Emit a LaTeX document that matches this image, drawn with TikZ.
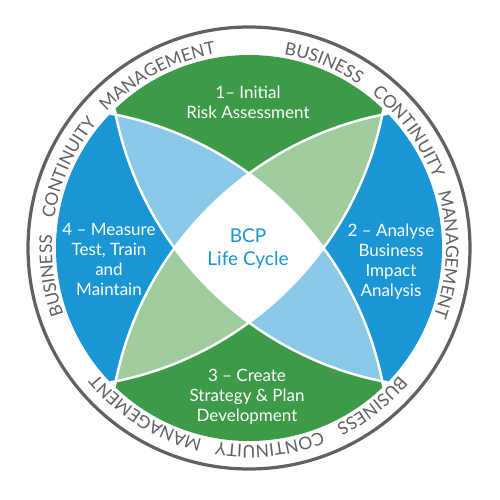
\documentclass[tikz,border=0pt]{standalone}
\usepackage{fontspec}
\setmainfont{Lato}
\usetikzlibrary{decorations.text}
\definecolor{bcpgreen}{RGB}{60,154,72}
\definecolor{bcpblue}{RGB}{26,150,212}
\definecolor{bcplightblue}{RGB}{138,200,232}
\definecolor{bcplightgreen}{RGB}{158,204,158}
\definecolor{ringgray}{RGB}{96,96,102}

\begin{document}
\begin{tikzpicture}[x=1pt,y=1pt,every node/.style={font=\fontsize{17}{20}\selectfont,text=white,align=center},
  ringword/.style={decorate,decoration={text along path,text align=center,text={|\color{ringgray}\fontsize{17.5}{17.5}\selectfont|#1}}}]
\useasboundingbox[fill=white] (-249,-252) rectangle (251,248);
\coordinate (c) at (0,0);
\coordinate (nw) at (-201,201);
\coordinate (ne) at (201,201);
\coordinate (sw) at (-201,-201);
\coordinate (se) at (201,-201);
\draw[ringgray,line width=3.2pt] (c) circle (221);
\foreach \r in {0,120,240}{
  \path[ringword=BUSINESS] (98-\r:197) arc[start angle=98-\r,end angle=38-\r,radius=197];
  \path[ringword=CONTINUITY] (66-\r:197) arc[start angle=66-\r,end angle=6-\r,radius=197];
  \path[ringword=MANAGEMENT] (28-\r:197) arc[start angle=28-\r,end angle=-32-\r,radius=197];
}
\begin{scope}
\clip (c) circle (193);
\begin{scope}\clip (nw) circle (341);\fill[bcpgreen] (ne) circle (341);\end{scope}
\begin{scope}\clip (sw) circle (341);\fill[bcpgreen] (se) circle (341);\end{scope}
\begin{scope}\clip (nw) circle (341);\fill[bcpblue] (sw) circle (341);\end{scope}
\begin{scope}\clip (ne) circle (341);\fill[bcpblue] (se) circle (341);\end{scope}
\begin{scope}\clip (nw) circle (341);\clip (ne) circle (341);\fill[bcplightblue] (sw) circle (341);\end{scope}
\begin{scope}\clip (nw) circle (341);\clip (ne) circle (341);\fill[bcplightgreen] (se) circle (341);\end{scope}
\begin{scope}\clip (ne) circle (341);\clip (se) circle (341);\fill[bcplightblue] (sw) circle (341);\end{scope}
\begin{scope}\clip (nw) circle (341);\clip (sw) circle (341);\fill[bcplightgreen] (se) circle (341);\end{scope}
\begin{scope}\clip (nw) circle (341);\clip (ne) circle (341);\clip (sw) circle (341);\fill[white] (se) circle (341);\end{scope}
\draw[white,line width=2.5pt] (nw) circle (341) (ne) circle (341) (sw) circle (341) (se) circle (341);
\end{scope}
\node (initial) at (-1,146) {1– Initial\\Risk Assessment};
\node (analyse) at (142,-14) {2 – Analyse\\Business\\Impact\\Analysis};
\node (create) at (-2,-149) {3 – Create\\Strategy \& Plan\\Development};
\node (measure) at (-140,-11) {4 – Measure\\Test, Train\\and\\Maintain};
\node[text=bcpblue,font=\fontsize{19}{23}\selectfont] (bcp) at (-1,-1) {BCP\\Life Cycle};
\end{tikzpicture}
\end{document}
